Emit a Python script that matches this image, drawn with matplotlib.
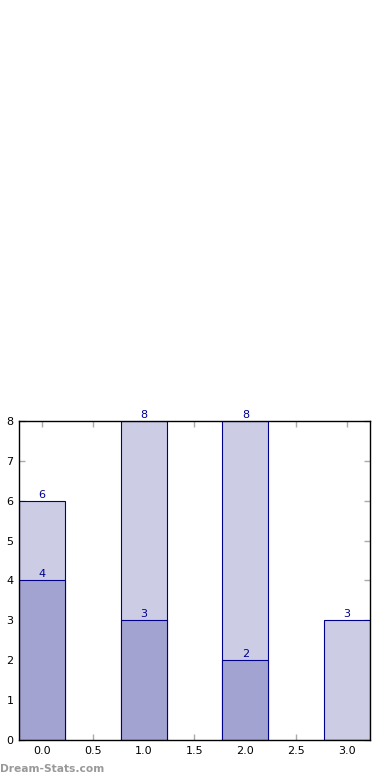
import numpy as np
import matplotlib
matplotlib.use("Agg")
import matplotlib.pyplot as plt

# data
positions = [0, 1, 2, 3]
totals = [6, 8, 8, 3]
parts = [4, 3, 2, 0]
x_ticks = [0.0, 0.5, 1.0, 1.5, 2.0, 2.5, 3.0]
y_ticks = [0, 1, 2, 3, 4, 5, 6, 7, 8]

fig = plt.figure(figsize=(3.9, 7.8), dpi=100)
ax = fig.add_axes([0.0487, 0.0513, 0.9, 0.4090])

width = 0.45
ax.bar(positions, totals, width=width, color="#ccccE4", edgecolor="#00008b", linewidth=0.8, zorder=2)
ax.bar(positions, parts, width=width, color="#a3a3d1", edgecolor="#00008b", linewidth=0.8, zorder=3)

# 柱顶数值
for x, v in zip(positions, totals):
    ax.text(x, v + 0.03, str(v), ha="center", va="bottom", fontsize=8, color="#00008b")
for x, v in zip(positions, parts):
    if v > 0:
        ax.text(x, v + 0.03, str(v), ha="center", va="bottom", fontsize=8, color="#00008b")

ax.set_xlim(-0.225, 3.225)
ax.set_ylim(0, 8)
ax.set_xticks(x_ticks)
ax.set_xticklabels([f"{t:.1f}" for t in x_ticks])
ax.set_yticks(y_ticks)
ax.tick_params(direction="in", length=4, width=1, color="#aaaaaa", labelsize=8,
               top=True, right=True, pad=4)
for s in ax.spines.values():
    s.set_linewidth(1)
    s.set_color("black")
    s.set_zorder(5)

fig.text(0.0, 0.0075, "Dream-Stats.com", fontsize=7.7, color="#999999", fontweight="bold",
         ha="left", va="bottom")

fig.savefig("out.png", dpi=100)
